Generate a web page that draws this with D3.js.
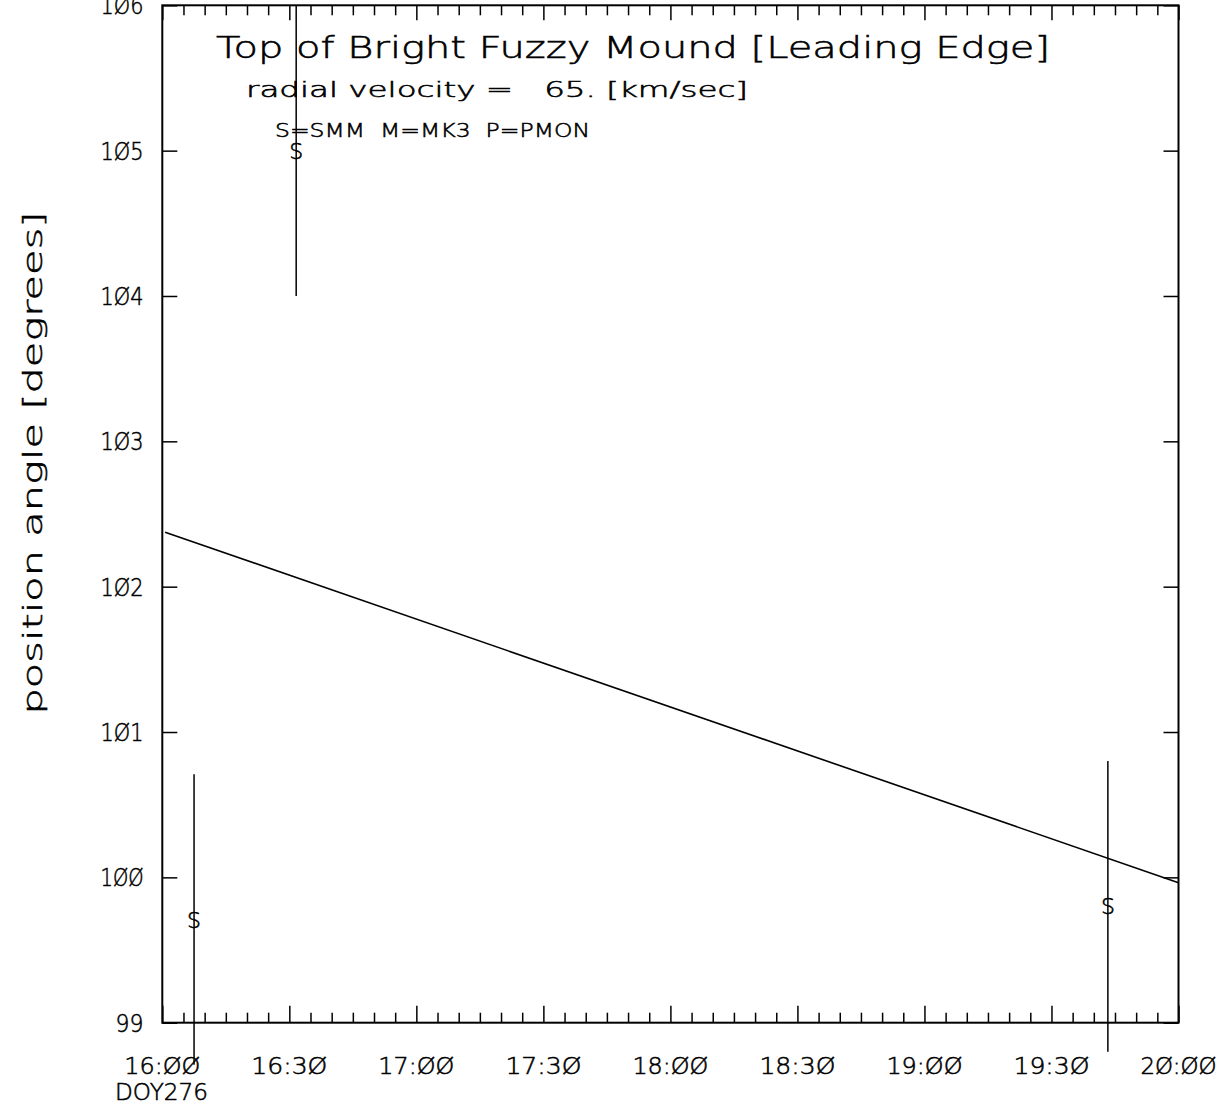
<!DOCTYPE html>
<html>
<head>
<meta charset="utf-8">
<script src="https://cdn.jsdelivr.net/npm/d3@7"></script>
<style>
  body { margin: 0; background: #fff; }
  svg { display: block; }
  text { font-family: "DejaVu Sans", "Liberation Sans", sans-serif; font-weight: 200; fill: #000; stroke: #000; stroke-width: 0.55; white-space: pre; }
</style>
</head>
<body>
<svg id="chart" width="1225" height="1106"></svg>
<script>
// ---- data ----
const titleText = "Top of Bright Fuzzy Mound [Leading Edge]";
const velocityText = "radial velocity =   65. [km/sec]";
const legendText = "S=SMM  M=MK3  P=PMON";
const yAxisTitle = "position angle [degrees]";
const dayLabel = "DOY276";

// time in decimal hours
const xDomain = [16, 20];
const yDomain = [99, 106];
const xMajorTicks = [16, 16.5, 17, 17.5, 18, 18.5, 19, 19.5, 20];
const xTickLabels = ["16:ØØ", "16:3Ø", "17:ØØ", "17:3Ø", "18:ØØ", "18:3Ø", "19:ØØ", "19:3Ø", "2Ø:ØØ"];
const yTicks = [99, 100, 101, 102, 103, 104, 105, 106];
const yTickLabels = ["99", "1ØØ", "1Ø1", "1Ø2", "1Ø3", "1Ø4", "1Ø5", "1Ø6"];

// fitted trend line (start, end)
const lineTimes = [16.011, 20.0];
const lineValues = [102.375, 99.963];

// observations (S = SMM)
const obsTimes = [16.125, 16.527, 19.722];
const obsValues = [99.71, 105.0, 99.80];
const obsErrors = [1.0, 1.0, 1.0];
const obsSymbols = ["S", "S", "S"];

// ---- layout ----
const svg = d3.select("#chart");
const L = 162.3, R = 1178.5, T = 5.3, B = 1022.7;
const x = d3.scaleLinear().domain(xDomain).range([L, R]);
const y = d3.scaleLinear().domain(yDomain).range([B, T]);

const minorTicks = d3.range(0, 49).map(i => 16 + i * 5 / 60).filter(t => !xMajorTicks.some(m => Math.abs(m - t) < 1e-6));

function styleAxis(g) {
  g.select(".domain").remove();
  g.selectAll("line").attr("stroke", "#000").attr("stroke-width", 1.5);
  g.selectAll("text").remove();
}

// bottom ticks
svg.append("g").attr("transform", `translate(0,${B})`)
  .call(d3.axisBottom(x).tickValues(minorTicks).tickSize(-10)).call(styleAxis);
svg.append("g").attr("transform", `translate(0,${B})`)
  .call(d3.axisBottom(x).tickValues(xMajorTicks).tickSize(-17)).call(styleAxis);
// top ticks
svg.append("g").attr("transform", `translate(0,${T})`)
  .call(d3.axisTop(x).tickValues(minorTicks).tickSize(-10)).call(styleAxis);
svg.append("g").attr("transform", `translate(0,${T})`)
  .call(d3.axisTop(x).tickValues(xMajorTicks).tickSize(-15)).call(styleAxis);
// left / right ticks
svg.append("g").attr("transform", `translate(${L},0)`)
  .call(d3.axisLeft(y).tickValues(yTicks).tickSize(-15)).call(styleAxis);
svg.append("g").attr("transform", `translate(${R},0)`)
  .call(d3.axisRight(y).tickValues(yTicks).tickSize(-15)).call(styleAxis);

// frame
svg.append("rect").attr("x", L).attr("y", T).attr("width", R - L).attr("height", B - T)
  .attr("fill", "none").attr("stroke", "#000").attr("stroke-width", 2);

// x tick labels
svg.append("g").selectAll("text").data(xMajorTicks).join("text")
  .attr("x", d => x(d)).attr("y", 1074)
  .attr("text-anchor", "middle")
  .attr("font-size", 23)
  .attr("textLength", 76).attr("lengthAdjust", "spacingAndGlyphs")
  .text((d, i) => xTickLabels[i]);

svg.append("text").attr("x", 115).attr("y", 1100).attr("font-size", 23)
  .attr("textLength", 93).attr("lengthAdjust", "spacingAndGlyphs").text(dayLabel);

// y tick labels
svg.append("g").selectAll("text").data(yTicks).join("text")
  .attr("x", 143.5).attr("y", d => y(d) + 9)
  .attr("text-anchor", "end")
  .attr("font-size", 24.5)
  .attr("textLength", (d, i) => yTickLabels[i].length === 2 ? 28 : 43)
  .attr("lengthAdjust", "spacingAndGlyphs")
  .text((d, i) => yTickLabels[i]);

// y axis title
svg.append("text")
  .attr("transform", "translate(42,463) rotate(-90)")
  .attr("text-anchor", "middle")
  .attr("font-size", 26)
  .attr("textLength", 503).attr("lengthAdjust", "spacingAndGlyphs")
  .text(yAxisTitle);

// titles
svg.append("text").attr("x", 216).attr("y", 57.5).attr("font-size", 30)
  .attr("textLength", 834).attr("lengthAdjust", "spacingAndGlyphs").text(titleText);
svg.append("text").attr("x", 246).attr("y", 97).attr("font-size", 21)
  .attr("textLength", 502).attr("lengthAdjust", "spacingAndGlyphs").text(velocityText);
svg.append("text").attr("x", 275).attr("y", 137).attr("font-size", 20)
  .attr("textLength", 315).attr("lengthAdjust", "spacingAndGlyphs").text(legendText);

// trend line
const lineData = lineTimes.map((t, i) => [t, lineValues[i]]);
svg.append("path").datum(lineData)
  .attr("d", d3.line().x(d => x(d[0])).y(d => y(d[1])))
  .attr("fill", "none").attr("stroke", "#000").attr("stroke-width", 1.6);

// error bars
const obs = obsTimes.map((t, i) => ({ t, v: obsValues[i], e: obsErrors[i], s: obsSymbols[i] }));
svg.append("g").selectAll("line").data(obs).join("line")
  .attr("x1", d => x(d.t)).attr("x2", d => x(d.t))
  .attr("y1", d => y(Math.min(d.v + d.e, yDomain[1]))).attr("y2", d => y(d.v - d.e))
  .attr("stroke", "#000").attr("stroke-width", 1.5);
svg.append("g").selectAll("text").data(obs).join("text")
  .attr("x", d => x(d.t)).attr("y", d => y(d.v) + 8)
  .attr("text-anchor", "middle").attr("font-size", 22)
  .text(d => d.s);
</script>
</body>
</html>
